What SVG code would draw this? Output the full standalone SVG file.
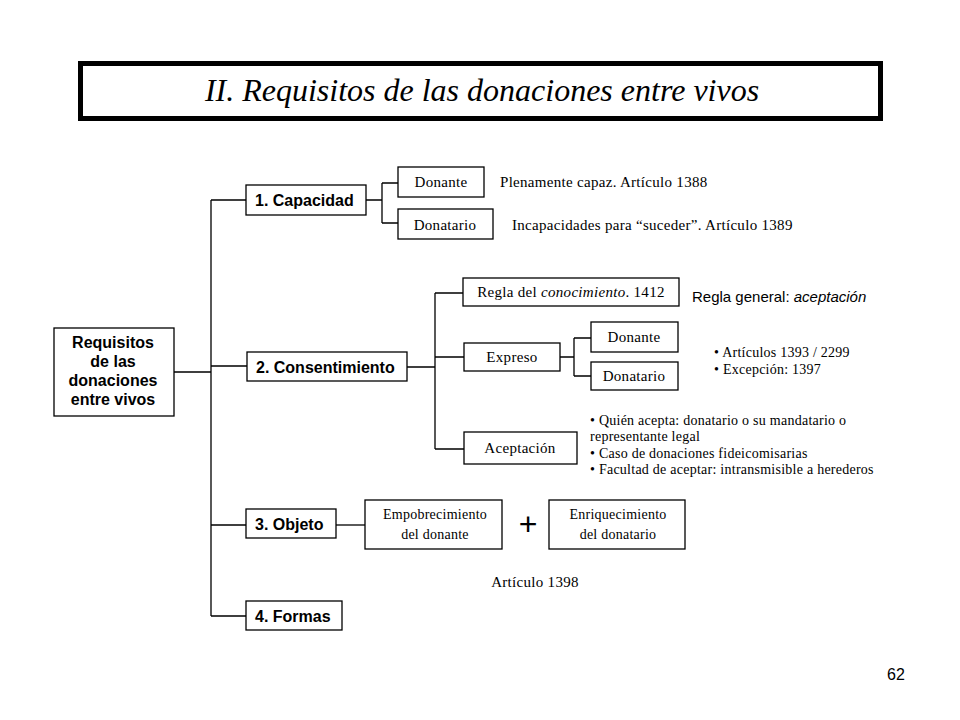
<svg xmlns="http://www.w3.org/2000/svg" width="960" height="720" viewBox="0 0 960 720">
<style>
.box{fill:#fff;stroke:#000;stroke-width:1.3}
.bold{font-family:"Liberation Sans",Arial,sans-serif;font-weight:bold;font-size:16px;fill:#000}
.serif{font-family:"Liberation Serif","Times New Roman",serif;font-size:15px;letter-spacing:0.3px;fill:#000}
.small{font-family:"Liberation Serif","Times New Roman",serif;font-size:14px;letter-spacing:0.25px;fill:#000}
.sans{font-family:"Liberation Sans",Arial,sans-serif;font-size:15px;fill:#000}
.conn{fill:none;stroke:#000;stroke-width:1.3}
</style>
<rect width="960" height="720" fill="#fff"/>
<g id="title">
<rect x="80.5" y="63.5" width="800" height="55" fill="#fff" stroke="#000" stroke-width="5"/>
<text x="482" y="101" text-anchor="middle" font-family="Liberation Serif,'Times New Roman',serif" font-style="italic" font-size="32">II. Requisitos de las donaciones entre vivos</text>
</g>
<g id="connectors">
<path class="conn" d="M174,372 H211 M211,200 V616 M211,200 H246 M211,366 H247 M211,525 H246 M211,616 H246"/>
<path class="conn" d="M366,200 H382 M382,183 V223 M382,183 H398 M382,223 H398"/>
<path class="conn" d="M407,367 H435 M435,293 V449 M435,293 H463 M435,357 H464 M435,449 H464"/>
<path class="conn" d="M560,357 H574 M574,338 V376 M574,338 H591 M574,376 H591"/>
<path class="conn" d="M336,525 H365"/>
</g>
<g id="root">
<rect class="box" x="54" y="328" width="120" height="88"/>
<text class="bold" text-anchor="middle" x="113" y="348">Requisitos</text>
<text class="bold" text-anchor="middle" x="113" y="367">de las</text>
<text class="bold" text-anchor="middle" x="113" y="386">donaciones</text>
<text class="bold" text-anchor="middle" x="113" y="405">entre vivos</text>
</g>
<g id="capacidad">
<rect class="box" x="246" y="185" width="120" height="30"/>
<text class="bold" x="255" y="206">1. Capacidad</text>
</g>
<g id="cap-donante">
<rect class="box" x="398" y="167" width="86" height="30"/>
<text class="serif" text-anchor="middle" x="441" y="187">Donante</text>
</g>
<g id="cap-donatario">
<rect class="box" x="398" y="209" width="95" height="30"/>
<text class="serif" text-anchor="middle" x="445" y="230">Donatario</text>
</g>
<text class="serif" x="500" y="187">Plenamente capaz. Artículo 1388</text>
<text class="serif" x="512" y="230">Incapacidades para “suceder”. Artículo 1389</text>
<g id="consentimiento">
<rect class="box" x="247" y="352" width="160" height="29"/>
<text class="bold" x="256" y="373">2. Consentimiento</text>
</g>
<g id="regla">
<rect class="box" x="463" y="278" width="216" height="28"/>
<text class="serif" text-anchor="middle" x="571" y="297">Regla del <tspan font-style="italic">conocimiento</tspan>. 1412</text>
</g>
<text class="sans" x="692" y="302">Regla general: <tspan font-style="italic">aceptación</tspan></text>
<g id="expreso">
<rect class="box" x="464" y="343" width="96" height="28"/>
<text class="serif" text-anchor="middle" x="512" y="362">Expreso</text>
</g>
<g id="exp-donante">
<rect class="box" x="591" y="322" width="87" height="30"/>
<text class="serif" text-anchor="middle" x="634" y="342">Donante</text>
</g>
<g id="exp-donatario">
<rect class="box" x="591" y="362" width="87" height="28"/>
<text class="serif" text-anchor="middle" x="634" y="381">Donatario</text>
</g>
<text class="small" x="714" y="357">• Artículos 1393 / 2299</text>
<text class="small" x="714" y="374">• Excepción: 1397</text>
<g id="aceptacion">
<rect class="box" x="464" y="432" width="113" height="32"/>
<text class="serif" text-anchor="middle" x="520" y="453">Aceptación</text>
</g>
<g class="small">
<text class="small" x="590" y="425">• Quién acepta: donatario o su mandatario o</text>
<text class="small" x="590" y="441">representante legal</text>
<text class="small" x="590" y="458">• Caso de donaciones fideicomisarias</text>
<text class="small" x="590" y="474">• Facultad de aceptar: intransmisible a herederos</text>
</g>
<g id="objeto">
<rect class="box" x="246" y="509" width="90" height="29"/>
<text class="bold" x="255" y="530">3. Objeto</text>
</g>
<g id="empobrecimiento">
<rect class="box" x="365" y="500" width="137" height="49"/>
<text class="small" text-anchor="middle" x="435" y="519">Empobrecimiento</text>
<text class="small" text-anchor="middle" x="435" y="539">del donante</text>
</g>
<text font-family="Liberation Sans,Arial,sans-serif" font-size="32" text-anchor="middle" x="528" y="535">+</text>
<g id="enriquecimiento">
<rect class="box" x="549" y="500" width="136" height="49"/>
<text class="small" text-anchor="middle" x="618" y="519">Enriquecimiento</text>
<text class="small" text-anchor="middle" x="618" y="539">del donatario</text>
</g>
<text class="serif" text-anchor="middle" x="535" y="587">Artículo 1398</text>
<g id="formas">
<rect class="box" x="246" y="601" width="96" height="29"/>
<text class="bold" x="255" y="622">4. Formas</text>
</g>
<text font-family="Liberation Sans,Arial,sans-serif" font-size="16" x="887" y="680">62</text>
</svg>
